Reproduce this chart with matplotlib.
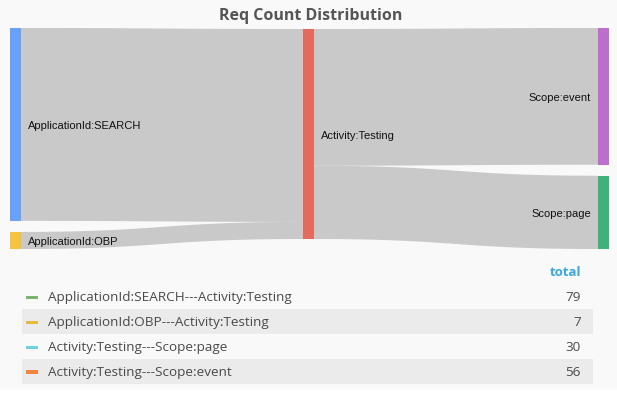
import numpy as np
import matplotlib.pyplot as plt
from matplotlib.patches import Rectangle, Polygon

# sankey data
left_nodes = ["ApplicationId:SEARCH", "ApplicationId:OBP"]
mid_nodes = ["Activity:Testing"]
right_nodes = ["Scope:event", "Scope:page"]
node_colors = {"ApplicationId:SEARCH": "#6aa1f8", "ApplicationId:OBP": "#f5c242",
               "Activity:Testing": "#e46a5e", "Scope:event": "#bd6dcc",
               "Scope:page": "#3fb27b"}
link_src = ["ApplicationId:SEARCH", "ApplicationId:OBP", "Activity:Testing", "Activity:Testing"]
link_dst = ["Activity:Testing", "Activity:Testing", "Scope:event", "Scope:page"]
link_val = [79, 7, 56, 30]

# table data
row_labels = ["ApplicationId:SEARCH---Activity:Testing", "ApplicationId:OBP---Activity:Testing",
              "Activity:Testing---Scope:page", "Activity:Testing---Scope:event"]
row_totals = [79, 7, 30, 56]
row_colors = ["#7db46c", "#e9b93b", "#6fd0e2", "#f3843d"]

W, H = 617, 401
fig = plt.figure(figsize=(W / 100, H / 100), dpi=100, facecolor="#f9f9f9")
ax = fig.add_axes([0, 0, 1, 1])
ax.set_xlim(0, W)
ax.set_ylim(H, 0)
ax.axis("off")

# layout (pixels)
top, pad, nw = 28, 11, 11
col_x = [10, 303, 598]
col_off = [0, 1, 0]  # small shift of the middle column like the original
total = sum(link_val[:2])
k = (221 - pad) / total  # px per unit

node_pos = {}
for ci, col in enumerate([left_nodes, mid_nodes, right_nodes]):
    y = top + col_off[ci]
    for name in col:
        vin = sum(v for d, v in zip(link_dst, link_val) if d == name)
        vout = sum(v for s, v in zip(link_src, link_val) if s == name)
        h = max(vin, vout) * k
        node_pos[name] = (col_x[ci], y, h)
        y += h + pad

# links
out_off = {n: 0.0 for n in node_pos}
in_off = {n: 0.0 for n in node_pos}
t = np.linspace(0, 1, 60)
for s, d, v in zip(link_src, link_dst, link_val):
    sx, sy, _ = node_pos[s]
    dx, dy, _ = node_pos[d]
    x0, x1 = sx + nw, dx
    y0 = sy + out_off[s]
    y1 = dy + in_off[d]
    h = v * k
    out_off[s] += h
    in_off[d] += h
    xm = (x0 + x1) / 2
    bx = (1 - t) ** 3 * x0 + 3 * (1 - t) ** 2 * t * xm + 3 * (1 - t) * t ** 2 * xm + t ** 3 * x1
    by = (1 - t) ** 3 * y0 + 3 * (1 - t) ** 2 * t * y0 + 3 * (1 - t) * t ** 2 * y1 + t ** 3 * y1
    pts = np.vstack([np.column_stack([bx, by]), np.column_stack([bx[::-1], by[::-1] + h])])
    ax.add_patch(Polygon(pts, closed=True, facecolor="#c9c9c9", edgecolor="none", zorder=1))

# nodes and labels
for name, (x, y, h) in node_pos.items():
    ax.add_patch(Rectangle((x, y), nw, h, facecolor=node_colors[name], edgecolor="none", zorder=2))
    if name in right_nodes:
        ax.text(x - 7, y + h / 2 + 2, name, ha="right", va="center", fontsize=8,
                family="Liberation Sans", color="#111111", zorder=3)
    else:
        ax.text(x + nw + 7, y + h / 2 + 2, name, ha="left", va="center", fontsize=8,
                family="Liberation Sans", color="#111111", zorder=3)

ax.text(311, 16, "Req Count Distribution", ha="center", va="center", fontsize=11.5,
        family="Open Sans", fontweight="bold", color="#555555")

# table
ax.text(581, 273, "total", ha="right", va="center", fontsize=9.5, family="Open Sans",
        fontweight="bold", color="#3ba8e0")
row_y0 = 284.5
row_h = 24.8
for i, (lab, val, c) in enumerate(zip(row_labels, row_totals, row_colors)):
    yc = row_y0 + row_h * i + row_h / 2
    if i % 2 == 1:
        ax.add_patch(Rectangle((22, row_y0 + row_h * i), 571, row_h, facecolor="#ebebeb",
                               edgecolor="none", zorder=0))
    ax.add_patch(Rectangle((26, yc - 1), 12, 3.5, facecolor=c, edgecolor="none", zorder=1))
    ax.text(48, yc + 1, lab, ha="left", va="center", fontsize=9.7, family="Open Sans", color="#4a4a4a")
    ax.text(581, yc + 1, str(val), ha="right", va="center", fontsize=9.7, family="Open Sans",
            color="#4a4a4a")

ax.add_patch(Rectangle((0, 389), W, 12, facecolor="#ffffff", edgecolor="none", zorder=0))

fig.savefig("out.png", dpi=100, facecolor=fig.get_facecolor())
